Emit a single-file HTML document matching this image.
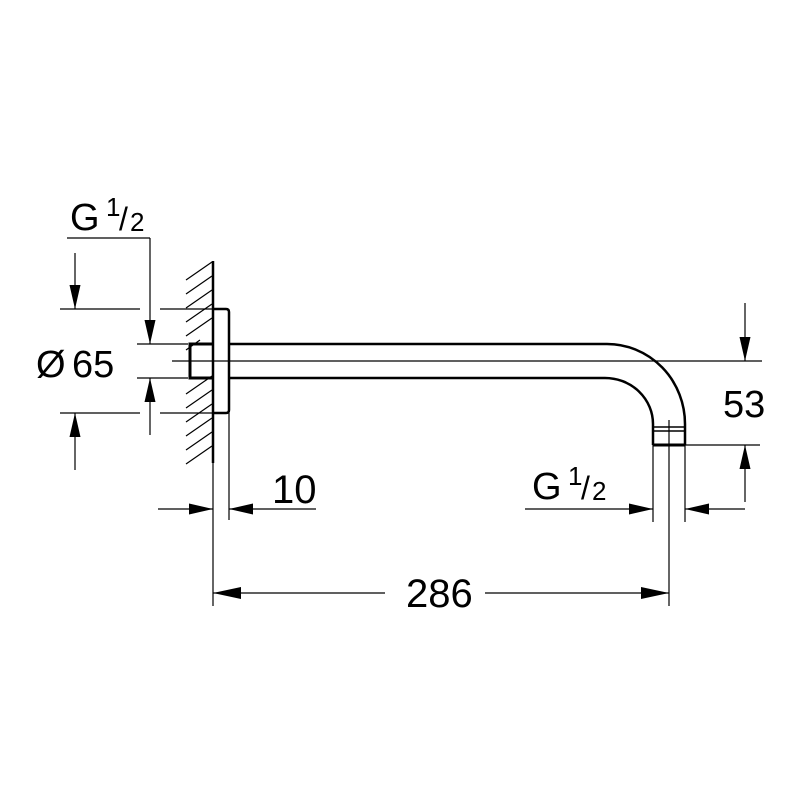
<!DOCTYPE html>
<html><head><style>body{margin:0;background:#fff}svg{display:block}</style></head><body>
<svg width="800" height="800" viewBox="0 0 800 800" xmlns="http://www.w3.org/2000/svg" font-family="Liberation Sans, sans-serif" fill="none" stroke="#000">
<g stroke-width="1.2">
<line x1="186" y1="280" x2="212" y2="262"/><line x1="186" y1="294" x2="212" y2="276"/><line x1="186" y1="308" x2="212" y2="290"/><line x1="186" y1="322" x2="212" y2="304"/><line x1="186" y1="336" x2="212" y2="318"/><line x1="186" y1="350" x2="200" y2="340"/>
<line x1="186" y1="394" x2="212" y2="376"/><line x1="186" y1="408" x2="212" y2="390"/><line x1="186" y1="422" x2="212" y2="404"/><line x1="186" y1="436" x2="212" y2="418"/><line x1="186" y1="450" x2="212" y2="432"/><line x1="186" y1="464" x2="212" y2="446"/>
</g>
<line x1="213" y1="261" x2="213" y2="463" stroke-width="2.5"/>
<line x1="213" y1="463" x2="213" y2="606" stroke-width="1.2"/>
<path d="M213 309 H226 Q229 309 229 312 V410 Q229 413 226 413 H213" stroke-width="2.5"/>
<line x1="229" y1="413" x2="229" y2="520" stroke-width="1.2"/>
<path d="M213 344 H190 V378 H213" stroke-width="3"/>
<path d="M229 344 H607 A78 80 0 0 1 685 424 V445" stroke-width="2.5"/>
<path d="M229 378 H605 A48 46 0 0 1 653 424 V445" stroke-width="2.5"/>
<line x1="653" y1="445" x2="685" y2="445" stroke-width="3"/>
<line x1="653" y1="427" x2="685" y2="427" stroke-width="1.5"/>
<line x1="653" y1="431" x2="685" y2="431" stroke-width="1.5"/>
<line x1="172" y1="361" x2="762" y2="361" stroke-width="1.2"/>
<line x1="669" y1="420" x2="669" y2="606" stroke-width="1.2"/>
<line x1="653" y1="445" x2="653" y2="522" stroke-width="1.2"/>
<line x1="685" y1="445" x2="685" y2="522" stroke-width="1.2"/>
<line x1="685" y1="445" x2="760" y2="445" stroke-width="1.2"/>
<g stroke-width="1.2">
<line x1="67" y1="238" x2="150" y2="238"/><line x1="150" y1="238" x2="150" y2="344"/>
<line x1="150" y1="378" x2="150" y2="435"/>
<line x1="137" y1="344" x2="188" y2="344"/><line x1="137" y1="378" x2="188" y2="378"/>
<line x1="60" y1="309" x2="140" y2="309"/><line x1="160" y1="309" x2="213" y2="309"/>
<line x1="60" y1="413" x2="140" y2="413"/><line x1="160" y1="413" x2="213" y2="413"/>
<line x1="75" y1="253" x2="75" y2="309"/><line x1="75" y1="413" x2="75" y2="470"/>
<line x1="158" y1="509" x2="213" y2="509"/><line x1="229" y1="509" x2="316" y2="509"/>
<line x1="525" y1="509" x2="653" y2="509"/><line x1="685" y1="509" x2="745" y2="509"/>
<line x1="745" y1="303" x2="745" y2="361"/><line x1="745" y1="445" x2="745" y2="502"/>
<line x1="213" y1="593" x2="385" y2="593"/><line x1="485" y1="593" x2="669" y2="593"/>
</g>
<g fill="#000" stroke="none">
<path d="M150 344 l-5.5 -24 h11z"/><path d="M150 378 l-5.5 24 h11z"/>
<path d="M75 309 l-5.5 -24 h11z"/><path d="M75 413 l-5.5 24 h11z"/>
<path d="M213 509 l-24 -5.5 v11z"/><path d="M229 509 l24 -5.5 v11z"/>
<path d="M653 509 l-24 -5.5 v11z"/><path d="M685 509 l24 -5.5 v11z"/>
<path d="M745 361 l-5.5 -24 h11z"/><path d="M745 445 l-5.5 24 h11z"/>
<path d="M213 593 l28 -6 v12z"/><path d="M669 593 l-28 -6 v12z"/>
</g>
<g fill="#000" stroke="none">
<text x="70" y="230" font-size="38">G</text><text x="106" y="216" font-size="26">1</text><text x="119" y="230" font-size="32">/</text><text x="130" y="231" font-size="26">2</text>
<text x="36" y="377" font-size="38">Ø</text><text x="72" y="377" font-size="38">65</text>
<text x="723" y="417" font-size="38">53</text>
<text x="272" y="503" font-size="40">10</text>
<text x="532" y="499" font-size="38">G</text><text x="568" y="485" font-size="26">1</text><text x="581" y="499" font-size="32">/</text><text x="592" y="500" font-size="26">2</text>
<text x="406" y="607" font-size="40">286</text>
</g>
</svg>
</body></html>
